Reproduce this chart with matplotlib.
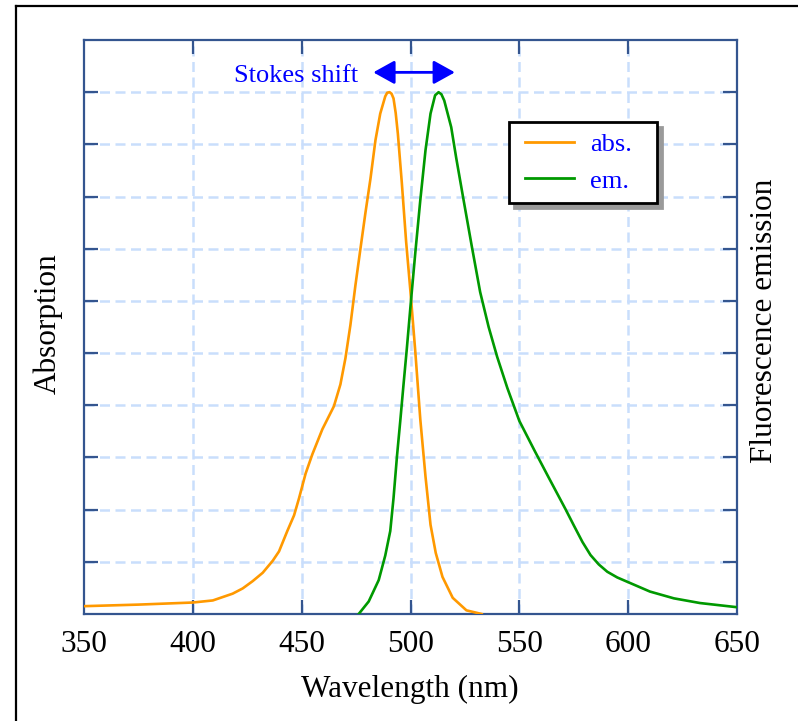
import matplotlib
matplotlib.use("Agg")
import matplotlib.pyplot as plt
from matplotlib.lines import Line2D
from matplotlib.legend_handler import HandlerLine2D

# ---- data ----
abs_x = [350, 375, 400, 409.2, 418.3, 422.9, 427.5, 432.1, 436.7, 439.6, 443.4, 446.5,
         448.8, 451.8, 454.9, 459.5, 464.8, 467.8, 470.1, 472.4, 474.7, 477, 479.3,
         481.6, 483.9, 486.1, 488.4, 489.3, 490.4, 491.3, 492.2, 493.2, 494.2, 496,
         498, 500, 502.2, 504.5, 506.9, 509.2, 511.6, 514.7, 519.4, 525.7, 532.7]
abs_y = [0.15, 0.18, 0.22, 0.26, 0.39, 0.49, 0.63, 0.79, 1.02, 1.2, 1.59, 1.89,
         2.22, 2.69, 3.06, 3.54, 3.98, 4.4, 4.9, 5.54, 6.3, 7.0, 7.69,
         8.34, 9.08, 9.59, 9.92, 9.99, 10.0, 9.97, 9.88, 9.6, 9.2, 8.27,
         7.13, 6.17, 5.03, 3.73, 2.63, 1.71, 1.17, 0.71, 0.31, 0.07, 0.0]

em_x = [476.2, 480.8, 485.4, 488.4, 490.7, 492.2, 493.8, 495.3, 496.8, 498.3, 500,
        502.2, 504.5, 506.9, 509.2, 511.3, 512.9, 514.2, 515.5, 518.7, 521, 524.1,
        528.1, 532, 535.9, 539.8, 544.5, 550, 557, 563.3, 571.2, 575, 579, 582.7,
        586.5, 590.4, 595, 600, 610, 621, 633, 650]
em_y = [0.0, 0.24, 0.65, 1.12, 1.59, 2.22, 3.03, 3.7, 4.4, 5.08, 5.9,
        6.92, 7.93, 8.89, 9.59, 9.94, 10.0, 9.96, 9.84, 9.33, 8.74, 8.0,
        7.06, 6.17, 5.5, 4.93, 4.33, 3.70, 3.13, 2.63, 2.01, 1.70, 1.38, 1.13,
        0.95, 0.81, 0.70, 0.61, 0.43, 0.30, 0.21, 0.13]

x_ticks = [400, 450, 500, 550, 600]
x_ticklabels = ["350", "400", "450", "500", "550", "600", "650"]
x_labelpos = [350, 400, 450, 500, 550, 600, 650]
y_ticks = [1, 2, 3, 4, 5, 6, 7, 8, 9, 10]
series_names = ["abs.", "em."]

# ---- style ----
plt.rcParams['font.family'] = ['Liberation Serif', 'DejaVu Serif']
spine_col = '#34558f'
grid_col = '#c9defc'
orange = '#ff9900'
green = '#009900'
W, H = 798, 721

fig = plt.figure(figsize=(W / 100, H / 100), dpi=100)
ax = fig.add_axes([84 / W, 1 - 614 / H, (737 - 84) / W, (614 - 40) / H])

ax.plot(abs_x, abs_y, color=orange, lw=1.9, label=series_names[0], zorder=3,
        solid_joinstyle='round')
ax.plot(em_x, em_y, color=green, lw=1.9, label=series_names[1], zorder=3,
        solid_joinstyle='round')

ax.set_xlim(350, 650)
ax.set_ylim(0, 11)

# grid at the tick positions
for gx in x_ticks:
    ax.axvline(gx, color=grid_col, lw=1.8, ls=(0, (4, 2.2)), zorder=1)
for gy in y_ticks:
    ax.axhline(gy, color=grid_col, lw=1.8, ls=(0, (4, 2.2)), zorder=1)

ax.set_xticks(x_ticks)
ax.set_xticklabels([])
ax.set_yticks(y_ticks)
ax.set_yticklabels([])
ax.tick_params(axis='both', which='both', direction='in', length=10, width=1.6,
               color=spine_col, top=True, right=True)
for s in ax.spines.values():
    s.set_color(spine_col)
    s.set_linewidth(1.6)

# tick labels for all positions (including the ends)
for xv, lab in zip(x_labelpos, x_ticklabels):
    ax.annotate(lab, xy=(xv, 0), xycoords=('data', 'axes fraction'),
                xytext=(0, -38 * 0.72), textcoords='offset points',
                ha='center', va='baseline', fontsize=22.5, color='black')

fig.text(410 / W, 1 - 697 / H, "Wavelength (nm)", ha='center', va='baseline',
         fontsize=22.5)
fig.text(48 / W, 1 - 324 / H, "Absorption", rotation=90, ha='center',
         va='center', fontsize=22.5)
fig.text(765 / W, 1 - 321 / H, "Fluorescence emission", rotation=90,
         ha='center', va='center', fontsize=22.5)

# Stokes shift annotation
ax.text(475.9, 10.19, "Stokes shift", ha='right', va='baseline', color='#0000ff',
        fontsize=19)
ax.annotate('', xy=(520.4, 10.38), xytext=(482.9, 10.38),
            arrowprops=dict(arrowstyle='<|-|>,head_length=0.65,head_width=0.36',
                            color='#0000ff', lw=2, shrinkA=0, shrinkB=0,
                            mutation_scale=20))

leg_x0 = (509 - 84) / 653
leg_y1 = 1 - (122 - 40) / 574
leg_w = (657 - 509) / 653
leg_h = (204 - 122) / 574
leg = ax.legend(loc='upper left', bbox_to_anchor=(leg_x0, leg_y1 - leg_h, leg_w, leg_h),
                mode='expand', borderaxespad=0, fontsize=19, frameon=True,
                fancybox=False, edgecolor='black', framealpha=1,
                handlelength=2.08, handletextpad=0.6, borderpad=0.4,
                labelspacing=0.5,
                handler_map={Line2D: HandlerLine2D(xpad=0.19)},
                shadow={'ox': 3.6, 'oy': -3.6, 'facecolor': '#9a9a9a',
                        'edgecolor': '#9a9a9a', 'alpha': 1})
leg.get_frame().set_linewidth(2)
for t in leg.get_texts():
    t.set_color('#0000ff')
for h in leg.get_lines():
    h.set_linewidth(2)

# outer frame (left and top edges visible)
fig.add_artist(Line2D([15.5 / W, 15.5 / W], [0, 1 - 5.5 / H], color='black', lw=1.6,
                      transform=fig.transFigure))
fig.add_artist(Line2D([15.5 / W, 1], [1 - 5.5 / H, 1 - 5.5 / H], color='black', lw=1.6,
                      transform=fig.transFigure))

fig.savefig('out.png', dpi=100)
